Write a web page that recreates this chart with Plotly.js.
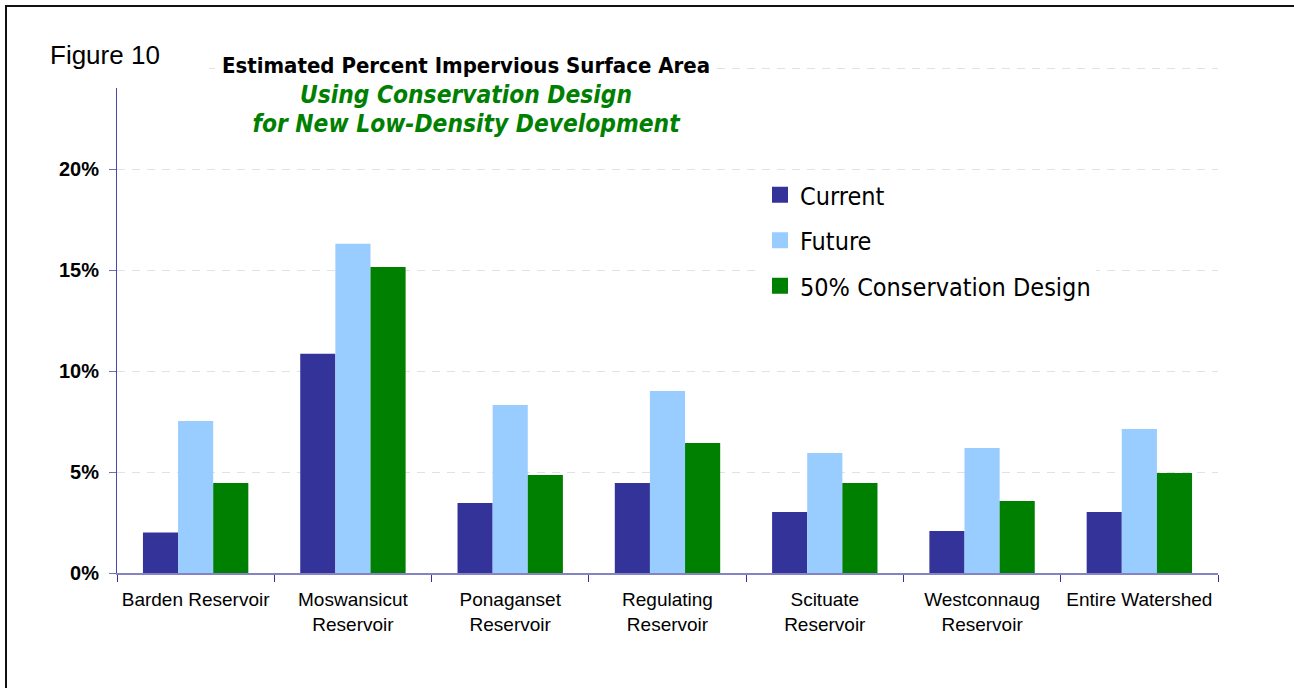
<!DOCTYPE html>
<html>
<head>
<meta charset="utf-8">
<script src="https://cdn.plot.ly/plotly-3.0.1.min.js"></script>
<style>
  html, body { margin: 0; padding: 0; background: #ffffff; }
  #chart { width: 1294px; height: 688px; }
</style>
</head>
<body>
<div id="chart"></div>
<script>
// ---- data (percent impervious surface) ----
const categories = [
  "Barden Reservoir",
  "Moswansicut<br>Reservoir",
  "Ponaganset<br>Reservoir",
  "Regulating<br>Reservoir",
  "Scituate<br>Reservoir",
  "Westconnaug<br>Reservoir",
  "Entire Watershed"
];
const currentValues      = [2.0, 10.85, 3.47, 4.46, 3.02, 2.08, 3.02];
const futureValues       = [7.52, 16.3, 8.32, 9.01, 5.94, 6.19, 7.13];
const conservationValues = [4.46, 15.15, 4.85, 6.44, 4.46, 3.56, 4.95];
const seriesNames = ["Current", "Future", "50% Conservation Design"];
const yTickValues = [0, 5, 10, 15, 20, 25];
const yTickLabels = ["0%", "5%", "10%", "15%", "20%", ""];

const legendFont = "'DejaVu Sans Condensed', 'Noto Sans', sans-serif";
const titleFont = "'DejaVu Sans Condensed', 'DejaVu Sans', sans-serif";
const armFont = "'Liberation Sans', Arial, sans-serif";

const colors = ["#333399", "#99CCFF", "#008000"];
const allValues = [currentValues, futureValues, conservationValues];

// plot-area geometry in pixels (for decorations only)
const PL = 117, PR = 1218, PT = 67, PB = 573;
const px2x = p => (p - PL) / (PR - PL);
const px2y = p => (PB - p) / (PB - PT);

const barTraces = allValues.map((vals, i) => ({
  type: "bar",
  name: seriesNames[i],
  x: categories,
  y: vals,
  marker: { color: colors[i], line: { width: 0 } },
  showlegend: false,
  hoverinfo: "x+y+name"
}));

// legend entries (square swatches)
const legendTraces = seriesNames.map((n, i) => ({
  type: "scatter",
  mode: "markers",
  name: n,
  x: [null],
  y: [null],
  marker: { symbol: "square", size: 16, color: colors[i], line: { width: 0 } },
  legendgroup: "g" + i,
  showlegend: true,
  hoverinfo: "skip"
}));

const layout = {
  width: 1294,
  height: 688,
  paper_bgcolor: "#ffffff",
  plot_bgcolor: "#ffffff",
  margin: { l: PL, r: 1294 - PR, t: PT, b: 688 - PB, pad: 0 },
  barmode: "group",
  bargap: 0.33,
  bargroupgap: 0,
  showlegend: true,
  title: {
    text: "<span style='font-size:22px'><b>Estimated Percent Impervious Surface Area</b></span><br>" +
          "<span style='color:#008000;font-size:24.3px'><b><i>Using Conservation Design</i></b></span><br>" +
          "<span style='color:#008000;font-size:24.3px'><b><i>for New Low-Density Development</i></b></span>",
    font: { family: titleFont, size: 22.7, color: "#000000" },
    x: 466 / 1294,
    xref: "container",
    xanchor: "center",
    y: 1 - 73 / 688,
    yref: "container",
    yanchor: "top"
  },
  legend: {
    x: px2x(760),
    y: px2y(172),
    xanchor: "left",
    yanchor: "top",
    bgcolor: "#ffffff",
    borderwidth: 0,
    font: { family: legendFont, size: 25, color: "#000000" },
    traceorder: "grouped",
    tracegroupgap: 10,
    itemsizing: "trace"
  },
  xaxis: {
    type: "category",
    tickson: "boundaries",
    ticks: "outside",
    ticklen: 7,
    tickwidth: 1,
    tickcolor: "#333399",
    tickangle: 0,
    showline: true,
    linecolor: "#8484c4",
    linewidth: 2,
    showgrid: false,
    zeroline: false,
    ticklabelstandoff: 8,
    tickfont: { family: armFont, size: 19, color: "#000000" },
    fixedrange: true
  },
  yaxis: {
    range: [0, 25.05],
    tickvals: yTickValues,
    ticktext: yTickLabels,
    ticks: "outside",
    ticklen: 7,
    tickwidth: 1,
    tickcolor: "#7070b8",
    showline: true,
    linecolor: "#4848a8",
    linewidth: 1,
    showgrid: true,
    gridcolor: "#e2e2e2",
    gridwidth: 1,
    griddash: "8px,7px",
    zeroline: false,
    ticklabelstandoff: 6,
    tickfont: { family: armFont, size: 20, color: "#000000", weight: "bold" },
    fixedrange: true
  },
  shapes: [
    // outer frame of the figure
    { type: "rect", xref: "paper", yref: "paper", layer: "below",
      x0: px2x(6), x1: 1.3, y0: -0.5, y1: px2y(6),
      line: { color: "#111111", width: 2 }, fillcolor: "rgba(0,0,0,0)" },
    // white text box behind "Figure 10" hiding the top of the axis
    { type: "rect", xref: "paper", yref: "paper", layer: "above",
      x0: px2x(98), x1: px2x(209), y0: px2y(88), y1: px2y(56),
      line: { width: 0 }, fillcolor: "#ffffff" },
    // white box behind the first title line
    { type: "rect", xref: "paper", yref: "paper", layer: "above",
      x0: px2x(218), x1: px2x(716), y0: px2y(72), y1: px2y(63),
      line: { width: 0 }, fillcolor: "#ffffff" }
  ],
  annotations: [
    { text: "Figure 10", xref: "paper", yref: "paper",
      x: px2x(48), y: px2y(55),
      xanchor: "left", yanchor: "middle", showarrow: false,
      font: { family: armFont, size: 26, color: "#000000" } }
  ]
};

Plotly.newPlot("chart", barTraces.concat(legendTraces), layout, { displayModeBar: false, staticPlot: true });
</script>
</body>
</html>
